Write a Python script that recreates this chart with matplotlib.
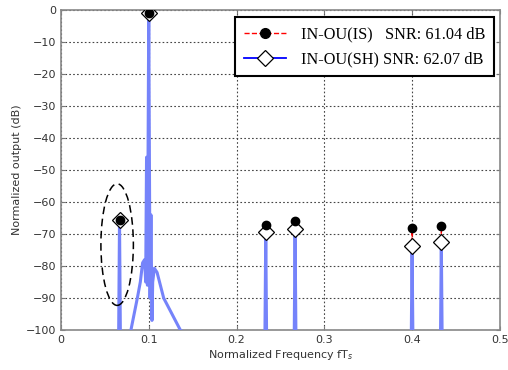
import matplotlib
matplotlib.use("Agg")
import matplotlib.pyplot as plt
from matplotlib.lines import Line2D
from matplotlib.patches import Ellipse

# tone frequencies and peak levels (dB)
tone_freq = [0.0667, 0.1, 0.2333, 0.2667, 0.4, 0.4333]
is_peak = [-65.5, -1.0, -67.2, -66.0, -68.2, -67.6]
sh_peak = [-65.5, -1.0, -69.5, -68.5, -73.8, -72.6]

# SH output spectrum trace
sh_freq = [0.0, 0.0652, 0.0667, 0.0682, 0.0797, 0.0873, 0.0904, 0.093, 0.0953,
           0.0965, 0.0975, 0.0985, 0.1, 0.1015, 0.1025, 0.1037, 0.1045, 0.1064,
           0.1095, 0.117, 0.136, 0.2318, 0.2333, 0.2348, 0.2652, 0.2667, 0.2682,
           0.3985, 0.4, 0.4015, 0.4318, 0.4333, 0.4348, 0.5]
sh_db = [-120, -120, -65.5, -120, -100, -89.6, -85, -79, -78,
         -85, -46, -86, -1, -90, -64, -97, -85, -80.7,
         -82, -90, -100, -120, -69.5, -120, -120, -68.5, -120,
         -120, -73.8, -120, -120, -72.6, -120, -120]

# IS output spectrum trace
is_freq = [0.0, 0.0652, 0.0667, 0.0682, 0.0797, 0.0873, 0.093, 0.0953, 0.0985,
           0.1, 0.1015, 0.1064, 0.1095, 0.117, 0.136, 0.2318, 0.2333, 0.2348,
           0.2652, 0.2667, 0.2682, 0.3985, 0.4, 0.4015, 0.4318, 0.4333, 0.4348, 0.5]
is_db = [-120, -120, -65.5, -120, -100, -90, -80, -79, -86,
         -1, -90, -81, -82, -90, -100, -120, -67.2, -120,
         -120, -66.0, -120, -120, -68.2, -120, -120, -67.6, -120, -120]

fig = plt.figure(figsize=(5.08, 3.70), dpi=100)
ax = fig.add_axes([0.120, 0.108, 0.864, 0.865])

ax.plot(is_freq, is_db, color="red", linestyle="--", linewidth=0.8, zorder=2)
ax.plot(sh_freq, sh_db, color="#7583fa", linewidth=2.2, zorder=3)
ax.plot(tone_freq, sh_peak, linestyle="none", marker="D", markersize=8.5,
        markerfacecolor="white", markeredgecolor="black", markeredgewidth=0.9, zorder=4)
ax.plot(tone_freq, is_peak, linestyle="none", marker="o", markersize=6,
        color="black", zorder=5)

# dashed ellipse around the low tone
ax.add_patch(Ellipse((tone_freq[0] - 0.0027, -73.3), 0.037, 38, fill=False,
                     edgecolor="black", linestyle=(0, (5, 3)), linewidth=1.1, zorder=6))

ax.set_xlim(0, 0.5)
ax.set_ylim(-100, 0)
ax.set_xticks([0, 0.1, 0.2, 0.3, 0.4, 0.5])
ax.set_xticklabels(["0", "0.1", "0.2", "0.3", "0.4", "0.5"])
ax.set_yticks(range(-100, 1, 10))
ax.grid(True, color="#444444", linestyle=(0, (1.5, 2)), linewidth=0.8)
ax.tick_params(direction="in", top=True, right=True, labelsize=8,
               labelcolor="#333333", color="#777777", length=3)
for s in ax.spines.values():
    s.set_color("#888888")
    s.set_linewidth(1.2)

ax.set_xlabel("Normalized Frequency fT$_s$", fontsize=8, color="#333333", labelpad=2)
ax.set_ylabel("Normalized output (dB)", fontsize=8, color="#333333", labelpad=3)

handles = [
    Line2D([], [], color="red", linestyle="--", linewidth=1, marker="o",
           markersize=7, markerfacecolor="black", markeredgecolor="black"),
    Line2D([], [], color="blue", linewidth=1.3, marker="D", markersize=8.5,
           markerfacecolor="white", markeredgecolor="black", markeredgewidth=0.9),
]
labels = ["IN-OU(IS)   SNR: 61.04 dB", "IN-OU(SH) SNR: 62.07 dB"]
leg = ax.legend(handles, labels, loc="upper right", fancybox=False,
                prop={"family": "Liberation Serif", "size": 11.7},
                handlelength=2.6, handletextpad=0.9, borderpad=0.55,
                labelspacing=0.55, borderaxespad=0,
                bbox_to_anchor=(0.9865, 0.977), framealpha=1)
leg.get_frame().set_edgecolor("black")
leg.get_frame().set_linewidth(1.5)
leg.set_zorder(10)

fig.savefig("out.png", dpi=100)
